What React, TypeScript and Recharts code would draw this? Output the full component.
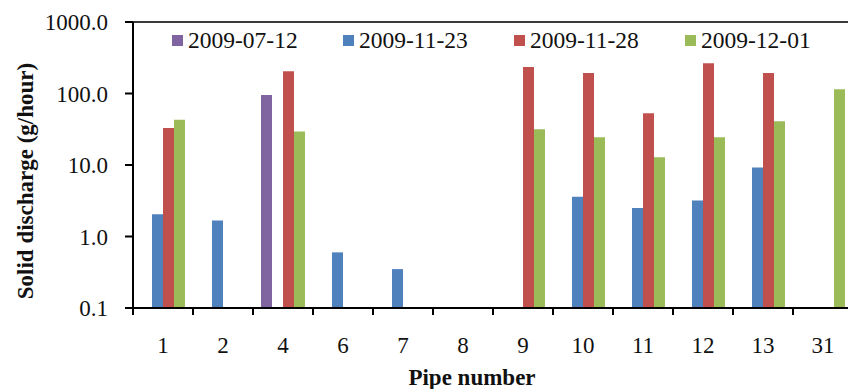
import React from 'react';
import { BarChart, Bar, XAxis, YAxis, Legend, ReferenceLine } from 'recharts';

const pipes = ['1', '2', '4', '6', '7', '8', '9', '10', '11', '12', '13', '31'];
const s0712 = [null, null, 95, null, null, null, null, null, null, null, null, null];
const s1123 = [2.05, 1.68, null, 0.6, 0.35, null, null, 3.6, 2.5, 3.2, 9.2, null];
const s1128 = [33, null, 205, null, null, null, 235, 193, 53, 265, 193, null];
const s1201 = [43, null, 29.5, null, null, null, 31.5, 24.4, 12.8, 24.4, 41, 115];
const seriesNames = ['2009-07-12', '2009-11-23', '2009-11-28', '2009-12-01'];
const seriesColors = ['#8064A2', '#4F81BD', '#C0504D', '#9BBB59'];
const seriesKeys = ['d0712', 'd1123', 'd1128', 'd1201'];
const yTicks = [0.1, 1, 10, 100, 1000];
const yTitle = 'Solid discharge (g/hour)';
const xTitle = 'Pipe number';

const seriesValues = [s0712, s1123, s1128, s1201];
const data = pipes.map((p, i) => {
  const row: any = { pipe: p };
  seriesKeys.forEach((k, j) => {
    row[k] = seriesValues[j][i];
  });
  return row;
});

const FONT = '"Liberation Serif", "Times New Roman", serif';
const FS = 23;

const XTick = (props: any) => {
  const { x, y, payload } = props;
  const half = payload && payload.offset ? payload.offset : 30;
  return (
    <g>
      <line x1={x - half} x2={x - half} y1={y} y2={y + 7} stroke="#000" strokeWidth={2} />
      <line x1={x + half} x2={x + half} y1={y} y2={y + 7} stroke="#000" strokeWidth={2} />
      <text x={x} y={y + 37} textAnchor="middle" dominantBaseline="central" fontFamily={FONT} fontSize={FS} fill="#111">
        {payload.value}
      </text>
    </g>
  );
};

const YTitle = () => (
  <text
    x={25}
    y={181}
    transform="rotate(-90 25 181)"
    textAnchor="middle"
    dominantBaseline="central"
    fontFamily={FONT}
    fontSize={FS}
    fontWeight="bold"
    fill="#111"
  >
    {yTitle}
  </text>
);

const XTitle = () => (
  <text
    x={472}
    y={377}
    textAnchor="middle"
    dominantBaseline="central"
    fontFamily={FONT}
    fontSize={FS}
    fontWeight="bold"
    fill="#111"
  >
    {xTitle}
  </text>
);

const LegendContent = () => (
  <div style={{ display: 'flex', fontFamily: FONT, fontSize: 23.5, color: '#111', lineHeight: '26px' }}>
    {seriesNames.map((n, i) => (
      <div key={n} style={{ width: 171, display: 'flex', alignItems: 'center', whiteSpace: 'nowrap' }}>
        <span style={{ display: 'inline-block', width: 11, height: 11, background: seriesColors[i], marginRight: 5 }} />
        <span>{n}</span>
      </div>
    ))}
  </div>
);

export default function App() {
  return (
    <div style={{ position: 'fixed', left: 0, top: 0, width: 848, height: 389, overflow: 'hidden', background: '#fff' }}>
      <BarChart
        width={860}
        height={389}
        data={data}
        margin={{ top: 22, right: 7, bottom: 1, left: 0 }}
        barCategoryGap={8}
        barGap={0}
      >
        <XAxis
          dataKey="pipe"
          height={80}
          axisLine={{ stroke: '#000', strokeWidth: 2 }}
          tickLine={false}
          tickSize={0}
          tickMargin={0}
          tick={<XTick />}
          interval={0}
          label={<XTitle />}
        />
        <YAxis
          type="number"
          scale="log"
          domain={[0.1, 1000]}
          ticks={yTicks}
          allowDataOverflow
          width={133}
          axisLine={{ stroke: '#000', strokeWidth: 2 }}
          tickLine={{ stroke: '#000', strokeWidth: 2 }}
          tickSize={8}
          tickMargin={17}
          tickFormatter={(v: number) => v.toFixed(1)}
          tick={{ fontFamily: FONT, fontSize: FS, fill: '#111' }}
          label={<YTitle />}
        />
        <ReferenceLine y={1000} stroke="#3a3a3a" strokeWidth={2} />
        <Legend
          layout="horizontal"
          verticalAlign="middle"
          align="center"
          content={<LegendContent />}
          wrapperStyle={{ top: 27, left: 172, width: 700 }}
        />
        {seriesKeys.map((k, i) => (
          <Bar key={k} dataKey={k} name={seriesNames[i]} fill={seriesColors[i]} isAnimationActive={false} />
        ))}
      </BarChart>
    </div>
  );
}
